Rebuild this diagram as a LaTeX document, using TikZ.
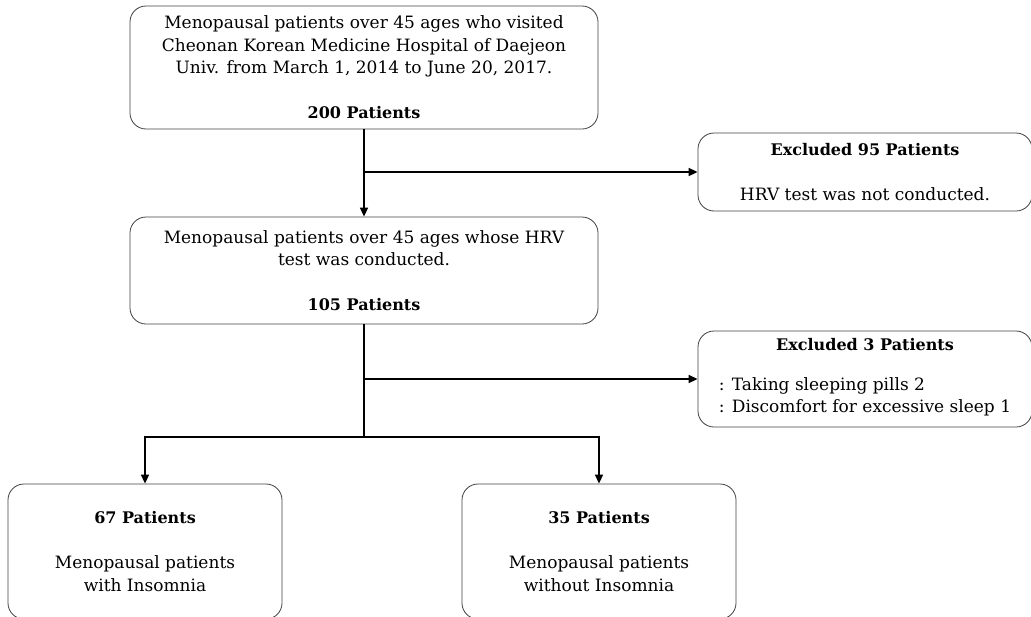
\documentclass[tikz,border=0pt]{standalone}
\usepackage{fontspec}
\setmainfont{DejaVu Serif}
\usetikzlibrary{arrows.meta}
\newcommand\boxhead[1]{{\fontsize{16}{22.5}\selectfont\bfseries #1}}
\begin{document}
\begin{tikzpicture}[x=1pt,y=-1pt,
    box/.style={draw=black!75,thick,rounded corners=16pt,align=center,inner sep=0pt,
      font=\fontsize{17}{22.5}\selectfont},
    link/.style={black,line width=1.6pt},
    arr/.style={link,-{Triangle[length=9pt,width=8pt]}}]
  \useasboundingbox (0,0) rectangle (1031,616);
  \clip (0,0) rectangle (1031,616);

  \node[box,minimum width=468,minimum height=123] (top) at (364,67.5)
    {Menopausal patients over 45 ages who visited\\
     Cheonan Korean Medicine Hospital of Daejeon\\
     Univ. from March 1, 2014 to June 20, 2017.\\[22.5pt]
     \boxhead{200 Patients}};
  \node[box,minimum width=334,minimum height=78] (excl1) at (865,172)
    {\boxhead{Excluded 95 Patients}\\[22.5pt]
     HRV test was not conducted.};
  \node[box,minimum width=468,minimum height=107] (mid) at (364,270.5)
    {Menopausal patients over 45 ages whose HRV\\
     test was conducted.\\[22.5pt]
     \boxhead{105 Patients}};
  \node[box,minimum width=334,minimum height=96] (excl2) at (865,379)
    {\boxhead{Excluded 3 Patients}\\[22.5pt]
     \begin{tabular}{@{}l@{}}
       : Taking sleeping pills 2\\
       : Discomfort for excessive sleep 1
     \end{tabular}};
  \node[box,minimum width=274,minimum height=135] (insom) at (145,551.5)
    {\boxhead{67 Patients}\\[22.5pt]
     Menopausal patients\\ with Insomnia};
  \node[box,minimum width=274,minimum height=135] (noinsom) at (599,551.5)
    {\boxhead{35 Patients}\\[22.5pt]
     Menopausal patients\\ without Insomnia};

  \coordinate (split) at (364,437);
  \draw[arr] (top.south) -- (mid.north);
  \draw[arr] (top.south |- excl1.west) -- (excl1.west);
  \draw[link] (mid.south) -- (split);
  \draw[arr] (mid.south |- excl2.west) -- (excl2.west);
  \draw[arr] (split) -| (insom.north);
  \draw[arr] (split) -| (noinsom.north);
\end{tikzpicture}
\end{document}
